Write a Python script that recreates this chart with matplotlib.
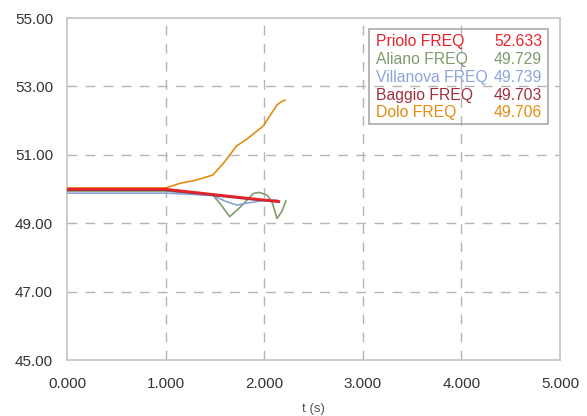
import matplotlib
matplotlib.use("Agg")
import matplotlib.pyplot as plt
from matplotlib.patches import Rectangle

plt.rcParams['font.family'] = ['Liberation Sans', 'DejaVu Sans']

# series (t in s, frequency in Hz)
t_priolo = [0.0, 1.0, 1.5, 1.85, 2.15]
f_priolo = [50.00, 50.00, 49.84, 49.73, 49.64]

t_aliano = [0.0, 1.0, 1.48, 1.56, 1.65, 1.75, 1.89, 1.95, 2.03, 2.08, 2.13, 2.18, 2.22]
f_aliano = [49.94, 49.94, 49.82, 49.55, 49.19, 49.45, 49.87, 49.90, 49.82, 49.62, 49.14, 49.35, 49.65]

t_villa = [0.0, 1.0, 1.48, 1.60, 1.72, 1.85, 1.99, 2.13]
f_villa = [49.88, 49.88, 49.81, 49.65, 49.53, 49.60, 49.66, 49.68]

t_baggio = [0.0, 1.0, 1.5, 1.85, 2.15]
f_baggio = [49.97, 49.97, 49.81, 49.70, 49.62]

t_dolo = [0.0, 1.0, 1.15, 1.31, 1.48, 1.60, 1.72, 1.82, 1.96, 1.99, 2.06, 2.13, 2.18, 2.21]
f_dolo = [50.03, 50.03, 50.17, 50.26, 50.41, 50.80, 51.26, 51.45, 51.77, 51.84, 52.15, 52.46, 52.56, 52.60]

names = ["Priolo FREQ", "Aliano FREQ", "Villanova FREQ", "Baggio FREQ", "Dolo FREQ"]
readouts = ["52.633", "49.729", "49.739", "49.703", "49.706"]
colors = ["#e8222a", "#7f9c6c", "#8ca4dc", "#a2303c", "#e48c10"]

x_ticks = [0, 1, 2, 3, 4, 5]
y_ticks = [45, 47, 49, 51, 53, 55]

fig = plt.figure(figsize=(5.87, 4.16), dpi=100)
ax = fig.add_axes([0.1141, 0.1346, 0.8399, 0.8221])

series = [(t_priolo, f_priolo), (t_aliano, f_aliano), (t_villa, f_villa),
          (t_baggio, f_baggio), (t_dolo, f_dolo)]
widths = [1.7, 1.2, 1.2, 1.4, 1.2]
order = [4, 1, 2, 3, 0]
for i in order:
    t, f = series[i]
    ax.plot(t, f, color=colors[i], lw=widths[i], zorder=3 + (i == 0))

ax.set_xlim(0, 5)
ax.set_ylim(45, 55)
ax.set_xticks(x_ticks)
ax.set_yticks(y_ticks)
ax.set_xticklabels(["%.3f" % v for v in x_ticks])
ax.set_yticklabels(["%.2f" % v for v in y_ticks])
ax.tick_params(length=0, labelsize=11, labelcolor="#333333")
ax.tick_params(axis="x", pad=12)
ax.tick_params(axis="y", pad=10)

for v in x_ticks[1:-1]:
    ax.axvline(v, color="#b4b4b4", lw=1, ls=(0, (7, 6)), zorder=1)
for v in y_ticks[1:-1]:
    ax.axhline(v, color="#b4b4b4", lw=1, ls=(0, (7, 6)), zorder=1)

for s in ax.spines.values():
    s.set_color("#c4c4c4")
    s.set_linewidth(1.2)

ax.set_xlabel("t (s)", fontsize=9.5, color="#555555", labelpad=9)

# readout box
ax.add_patch(Rectangle((0.6126, 0.690), 0.3631, 0.278, transform=ax.transAxes,
                       fill=False, edgecolor="#aaaaaa", lw=1.2, zorder=5))
y0 = 0.930
for k in range(len(names)):
    yy = y0 - k * 0.0518
    ax.text(0.627, yy, names[k], color=colors[k], fontsize=11.3,
            transform=ax.transAxes, va="center", ha="left", zorder=6)
    ax.text(0.9635, yy, readouts[k], color=colors[k], fontsize=11.3,
            transform=ax.transAxes, va="center", ha="right", zorder=6)

fig.savefig("out.png", dpi=100)
